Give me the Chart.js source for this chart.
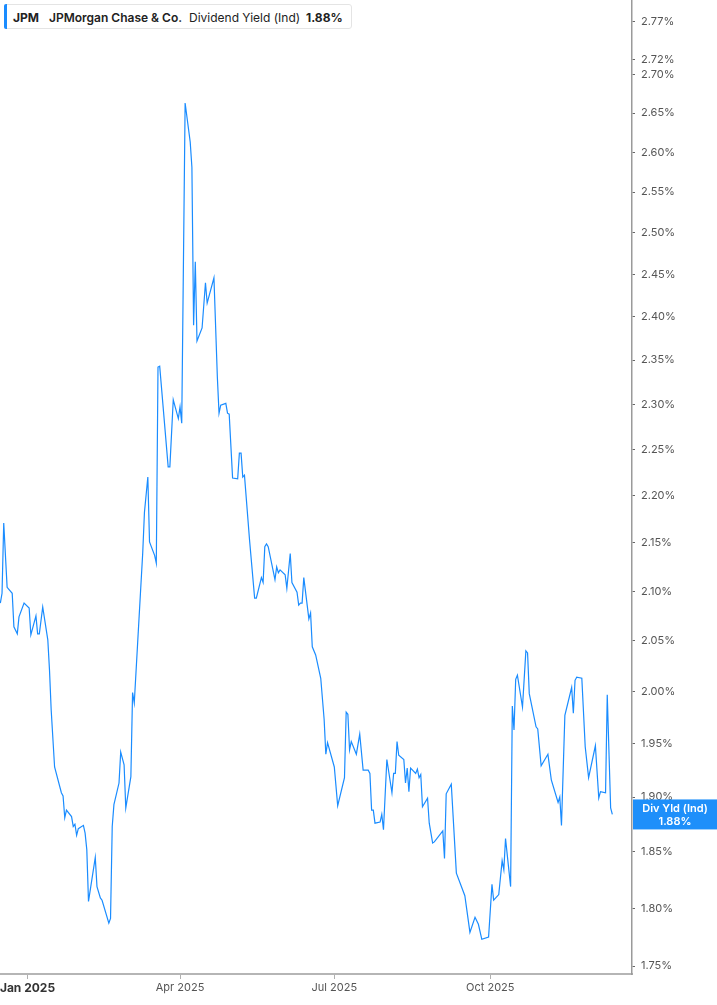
<!DOCTYPE html>
<html>
<head>
<meta charset="utf-8">
<script src="https://cdn.jsdelivr.net/npm/chart.js@4"></script>
<style>
  html, body { margin: 0; padding: 0; background: #fff; }
  #wrap { position: relative; width: 717px; height: 1005px; }
  #legend { position: absolute; left: 4px; top: 4px; width: 348px; height: 25px; background: #fff;
            border: 1px solid #e4e4e4; border-radius: 3px; box-sizing: border-box; font-family: Inter, "Open Sans", sans-serif;
            font-size: 12px; color: #222; z-index: 2; }
  #legend .bar { position: absolute; left: -1px; top: -1px; bottom: -1px; width: 3px; background: #1a8cff; border-radius: 2px 0 0 2px; }
  #legend span { position: absolute; top: 5px; white-space: nowrap; }
</style>
</head>
<body>
<div id="wrap">
  <div id="legend">
    <div class="bar"></div>
    <span style="left:8px;font-weight:700">JPM</span>
    <span style="left:44px;font-weight:600">JPMorgan Chase &amp; Co.</span>
    <span style="left:184px;font-weight:400">Dividend Yield (Ind)</span>
    <span style="left:301px;font-weight:700">1.88%</span>
  </div>
  <canvas id="c" width="717" height="1005"></canvas>
</div>
<script>
const dates = [
 '2024-12-16','2024-12-17','2024-12-18','2024-12-20','2024-12-23','2024-12-24','2024-12-26','2024-12-27','2024-12-30',
 '2025-01-02','2025-01-03','2025-01-06','2025-01-07','2025-01-08','2025-01-10','2025-01-13','2025-01-14','2025-01-15','2025-01-17',
 '2025-01-21','2025-01-22','2025-01-23','2025-01-24','2025-01-27','2025-01-28','2025-01-29','2025-01-30','2025-01-31',
 '2025-02-03','2025-02-04','2025-02-05','2025-02-06','2025-02-10','2025-02-11','2025-02-13','2025-02-14','2025-02-18','2025-02-19',
 '2025-02-20','2025-02-21','2025-02-24','2025-02-25','2025-02-27','2025-02-28',
 '2025-03-03','2025-03-04','2025-03-05','2025-03-07','2025-03-10','2025-03-11','2025-03-13','2025-03-14','2025-03-17','2025-03-18',
 '2025-03-19','2025-03-20','2025-03-25','2025-03-26','2025-03-28','2025-03-31',
 '2025-04-01','2025-04-02','2025-04-04','2025-04-07','2025-04-08','2025-04-09','2025-04-10','2025-04-11','2025-04-14','2025-04-16',
 '2025-04-17','2025-04-21','2025-04-23','2025-04-24','2025-04-25','2025-04-28','2025-04-29','2025-04-30',
 '2025-05-02','2025-05-05','2025-05-06','2025-05-07','2025-05-08','2025-05-09','2025-05-12','2025-05-15','2025-05-16','2025-05-19',
 '2025-05-20','2025-05-21','2025-05-22','2025-05-23','2025-05-27','2025-05-28','2025-05-29','2025-05-30',
 '2025-06-02','2025-06-03','2025-06-05','2025-06-06','2025-06-09','2025-06-10','2025-06-11','2025-06-12','2025-06-13','2025-06-16',
 '2025-06-17','2025-06-18','2025-06-20','2025-06-23','2025-06-25','2025-06-26','2025-06-27',
 '2025-07-01','2025-07-03','2025-07-07','2025-07-08','2025-07-09','2025-07-10','2025-07-11','2025-07-14','2025-07-16','2025-07-18',
 '2025-07-21','2025-07-22','2025-07-23','2025-07-24','2025-07-25','2025-07-28','2025-07-29','2025-07-30',
 '2025-08-01','2025-08-04','2025-08-05','2025-08-06','2025-08-07','2025-08-08','2025-08-11','2025-08-12','2025-08-13','2025-08-14',
 '2025-08-15','2025-08-18','2025-08-19','2025-08-20','2025-08-21','2025-08-22','2025-08-25','2025-08-26','2025-08-28','2025-08-29',
 '2025-09-03','2025-09-04','2025-09-05','2025-09-08','2025-09-11','2025-09-16','2025-09-19','2025-09-22','2025-09-24','2025-09-26','2025-09-30',
 '2025-10-02','2025-10-03','2025-10-06','2025-10-08','2025-10-09','2025-10-10','2025-10-13','2025-10-14','2025-10-15','2025-10-16',
 '2025-10-17','2025-10-20','2025-10-22','2025-10-23','2025-10-24','2025-10-28','2025-10-29','2025-10-31',
 '2025-11-04','2025-11-06','2025-11-10','2025-11-11','2025-11-12','2025-11-14','2025-11-18','2025-11-19','2025-11-20','2025-11-21',
 '2025-11-24','2025-11-26','2025-11-28',
 '2025-12-02','2025-12-04','2025-12-05','2025-12-08','2025-12-09','2025-12-11','2025-12-12'
];
const yields = [
 2.088,2.098,2.171,2.104,2.098,2.064,2.057,2.074,2.088,
 2.083,2.056,2.075,2.057,2.057,2.084,2.051,2.021,1.982,1.928,
 1.904,1.901,1.881,1.888,1.882,1.873,1.875,1.865,1.871,
 1.874,1.867,1.852,1.806,1.845,1.819,1.809,1.807,1.787,1.791,
 1.873,1.893,1.913,1.942,1.930,1.890,
 1.919,1.999,1.989,2.048,2.140,2.182,2.220,2.151,2.137,2.129,
 2.342,2.343,2.231,2.231,2.305,2.284,
 2.297,2.279,2.663,2.613,2.581,2.390,2.465,2.372,2.387,2.440,
 2.416,2.446,2.331,2.290,2.299,2.301,2.290,2.289,
 2.219,2.218,2.246,2.246,2.220,2.222,2.153,2.093,2.093,2.114,
 2.109,2.146,2.149,2.146,2.112,2.125,2.119,2.122,
 2.117,2.103,2.139,2.109,2.099,2.086,2.088,2.088,2.114,2.072,
 2.078,2.044,2.036,2.013,1.973,1.940,1.951,
 1.928,1.892,1.918,1.980,1.978,1.944,1.952,1.940,1.959,1.925,
 1.925,1.922,1.888,1.888,1.876,1.877,1.884,1.870,
 1.935,1.904,1.922,1.922,1.952,1.939,1.935,1.913,1.927,1.905,
 1.927,1.922,1.926,1.918,1.921,1.891,1.899,1.876,1.858,1.859,
 1.869,1.844,1.903,1.912,1.831,1.811,1.779,1.792,1.786,1.773,1.775,
 1.821,1.807,1.812,1.842,1.834,1.862,1.819,1.986,1.963,2.012,
 2.016,1.985,2.040,2.038,1.998,1.966,1.964,1.929,
 1.940,1.916,1.895,1.900,1.874,1.977,2.004,1.979,2.011,2.014,
 2.013,1.947,1.918,
 1.948,1.899,1.905,1.904,1.997,1.890,1.884
];
const xTickDates = ['2025-01-01','2025-04-01','2025-07-01','2025-10-01'];
const xTickLabels = ['Jan 2025','Apr 2025','Jul 2025','Oct 2025'];
const yTickValues = [1.75,1.80,1.85,1.90,1.95,2.00,2.05,2.10,2.15,2.20,2.25,2.30,2.35,2.40,2.45,2.50,2.55,2.60,2.65,2.70,2.72,2.77];
const xStart = '2024-12-15';
const xEnd = '2025-12-23';
const yMin = 1.7433, yMax = 2.7998;
const seriesLabel = 'Div Yld (Ind)';

const DAY = 86400000;
const base = Date.UTC(2025, 0, 1);
const toDay = s => (Date.parse(s + 'T00:00:00Z') - base) / DAY;
const points = dates.map((d, i) => ({ x: toDay(d), y: yields[i] }));
const xTicks = xTickDates.map(toDay);

const lineColor = '#1a8cff';
const FONT = 'Inter, "Open Sans", sans-serif';

const lastBox = {
  id: 'lastBox',
  afterDraw(chart) {
    const { ctx } = chart;
    const ys = chart.scales.y;
    const v = yields[yields.length - 1];
    const py = ys.getPixelForValue(v);
    const x0 = chart.chartArea.right + 1, x1 = chart.width;
    ctx.save();
    ctx.fillStyle = '#1e8ffa';
    ctx.fillRect(x0, py - 15, x1 - x0, 30);
    ctx.fillStyle = '#fff';
    ctx.font = '600 11px ' + FONT;
    ctx.textAlign = 'center';
    ctx.textBaseline = 'middle';
    const cx = (x0 + x1) / 2;
    ctx.fillText(seriesLabel, cx, py - 6);
    ctx.fillText(v.toFixed(2) + '%', cx, py + 7);
    ctx.restore();
  }
};

new Chart(document.getElementById('c'), {
  type: 'line',
  data: {
    datasets: [{
      data: points,
      borderColor: lineColor,
      borderWidth: 1.2,
      pointRadius: 0,
      tension: 0,
      fill: false
    }]
  },
  options: {
    responsive: false,
    animation: false,
    layout: { padding: 0 },
    plugins: { legend: { display: false }, tooltip: { enabled: false } },
    scales: {
      x: {
        type: 'linear',
        bounds: 'data',
        min: toDay(xStart) + 0.8,
        max: toDay(xEnd) + 0.6,
        afterBuildTicks: s => { s.ticks = xTicks.map(v => ({ value: v })); s.min = toDay(xStart) + 0.8; s.max = toDay(xEnd) + 0.6; },
        afterFit: s => { s.height = 31; s.paddingLeft = 0; s.paddingRight = 0; },
        grid: { drawOnChartArea: false, drawTicks: true, tickLength: 5, color: '#b0b0b0', tickWidth: 1 },
        border: { display: true, color: '#b5b5b5', width: 2 },
        ticks: {
          autoSkip: false,
          maxRotation: 0,
          padding: 2,
          callback: v => { const i = xTicks.indexOf(v); return i >= 0 ? xTickLabels[i] : ''; },
          color: c => (c.tick && c.tick.value === 0) ? '#333' : '#555',
          font: c => (c.tick && c.tick.value === 0) ? { family: FONT, size: 12, weight: '700' } : { family: FONT, size: 11, weight: '400' }
        }
      },
      y: {
        type: 'logarithmic',
        position: 'right',
        bounds: 'data',
        min: yMin,
        max: yMax,
        afterBuildTicks: s => { s.ticks = yTickValues.map(v => ({ value: v })); s.min = yMin; s.max = yMax; },
        afterFit: s => { s.width = 85; s.paddingTop = 0; s.paddingBottom = 0; },
        grid: { drawOnChartArea: false, drawTicks: true, tickLength: 3, color: '#666', tickWidth: 1 },
        border: { display: true, color: '#9a9a9a', width: 1.5 },
        ticks: {
          autoSkip: false,
          padding: 6,
          color: '#555',
          font: { family: FONT, size: 11 },
          callback: v => Number(v).toFixed(2) + '%'
        }
      }
    }
  },
  plugins: [lastBox]
});
</script>
</body>
</html>
